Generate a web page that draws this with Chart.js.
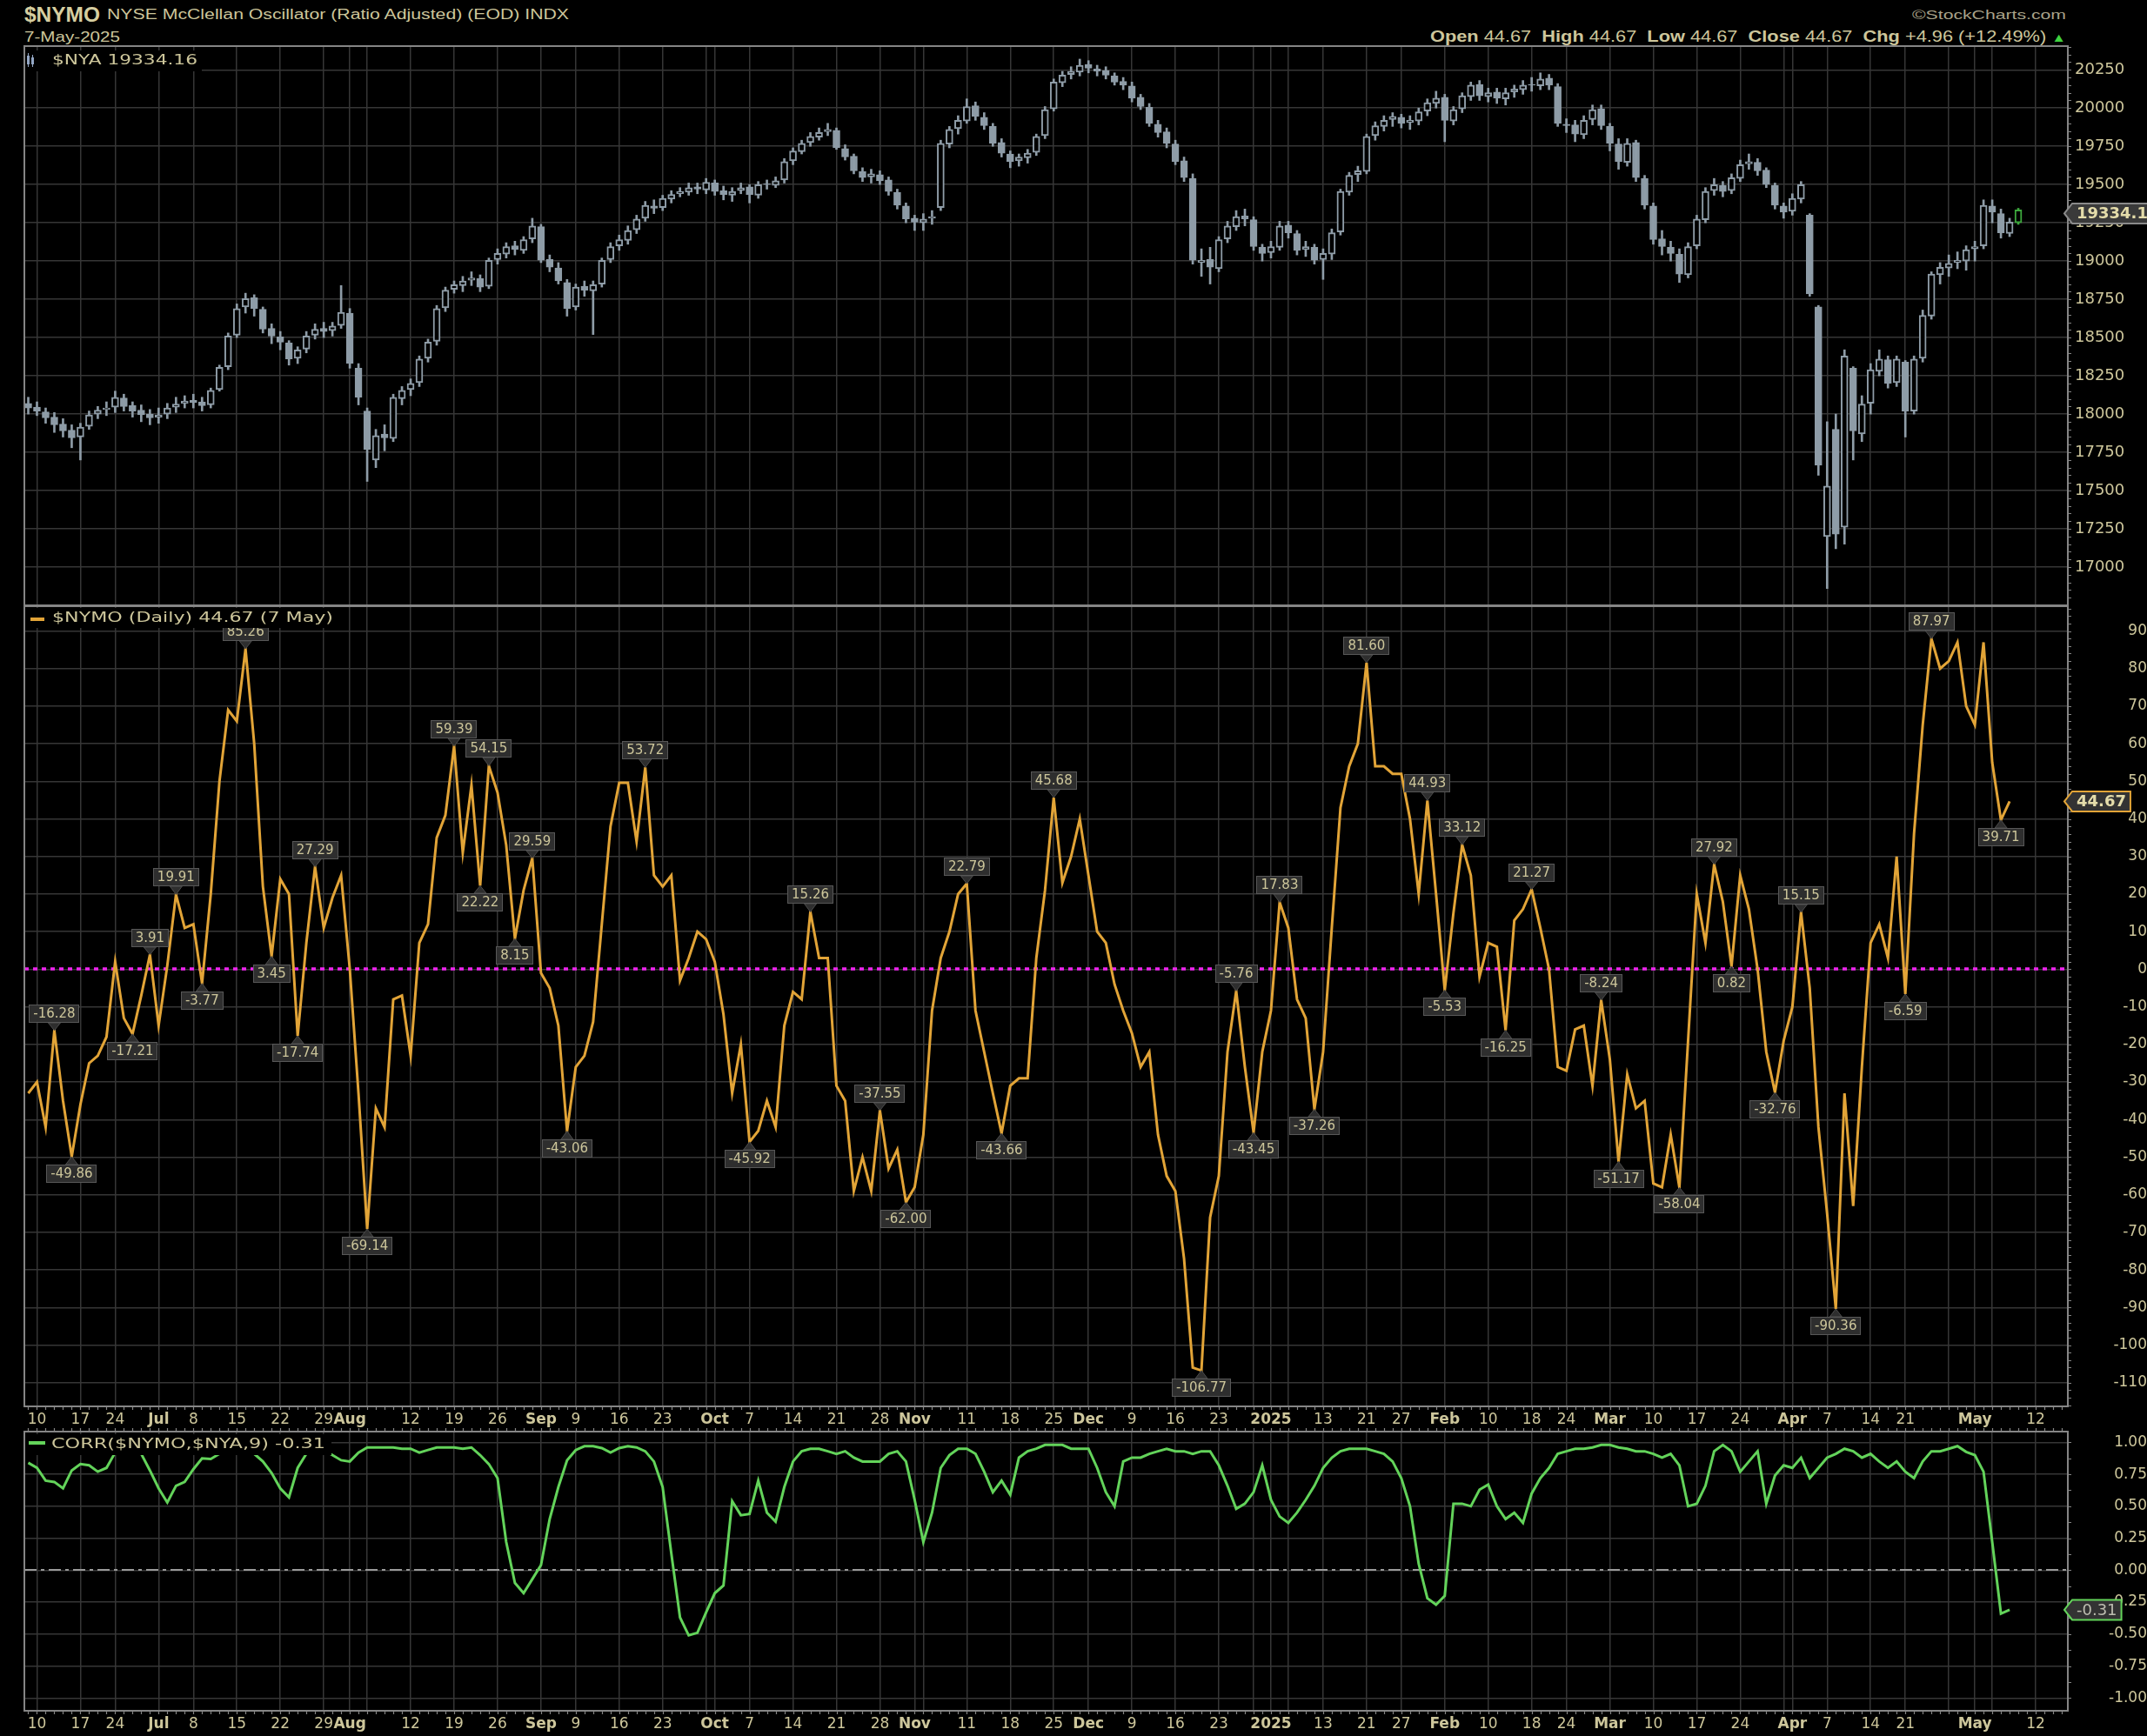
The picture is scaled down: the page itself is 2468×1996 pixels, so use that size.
<!DOCTYPE html>
<html><head><meta charset="utf-8"><title>$NYMO</title>
<script src="https://cdn.jsdelivr.net/npm/chart.js@4.4.1/dist/chart.umd.min.js"></script>
<style>
html,body{margin:0;padding:0;background:#000;}
body{width:2468px;height:1996px;position:relative;overflow:hidden;}
canvas{position:absolute;left:0;display:block;}
.t{position:absolute;left:0;top:0;white-space:nowrap;font-family:"Liberation Sans",Arial,sans-serif;color:#cdc69b;line-height:1.15;transform-origin:0 50%;}
</style></head><body>
<div id="hSym" class="t" style="font-weight:bold;font-size:23px;color:#d6cea0">$NYMO</div>
<div id="hTitle" class="t" style="font-size:16px">NYSE McClellan Oscillator (Ratio Adjusted) (EOD) INDX</div>
<div id="hDate" class="t" style="font-size:17px">7-May-2025</div>
<div id="hSc" class="t" style="font-size:15px;color:#a9a389">©StockCharts.com</div>
<div id="hOhlc" class="t" style="font-size:18px"></div>
<canvas id="cPrice" width="2468" height="670" style="top:40px"></canvas>
<canvas id="cNymo" width="2468" height="960" style="top:690px"></canvas>
<canvas id="cCorr" width="2468" height="356" style="top:1640px"></canvas>
<script>
// ---------------- DATA ----------------
const holidays = ['2024-06-19','2024-07-04','2024-09-02','2024-11-28','2024-12-25','2025-01-01','2025-01-09','2025-01-20','2025-02-17','2025-04-18'];
const labelSkip = ['2024-08-05','2024-09-30','2024-11-04','2024-12-30','2025-01-06','2025-03-31','2025-04-28','2025-05-05'];
const monthNames = ['Jan','Feb','Mar','Apr','May','Jun','Jul','Aug','Sep','Oct','Nov','Dec'];

// $NYA daily candles (open, high, low, close)
const nyaOpen = [18070,18045,18015,17980,17935,17895,17850,17920,18000,18030,
18045,18105,18055,18025,18000,17980,18000,18045,18070,18090,
18080,18060,18160,18310,18515,18700,18760,18685,18560,18505,
18465,18365,18425,18515,18560,18545,18580,18660,18300,18020,
17700,17870,17840,18100,18160,18205,18365,18475,18695,18815,
18840,18875,18885,18835,19010,19045,19100,19070,19145,19225,
19010,18955,18860,18700,18835,18805,18850,19010,19100,19135,
19205,19280,19360,19350,19405,19440,19450,19485,19465,19510,
19460,19430,19460,19485,19430,19505,19495,19530,19655,19715,
19775,19810,19845,19855,19735,19685,19585,19550,19565,19530,
19450,19360,19280,19250,19280,19350,19765,19865,19915,20015,
19940,19880,19775,19700,19655,19675,19710,19820,19995,20165,
20220,20235,20285,20255,20245,20210,20175,20145,20070,20005,
19895,19845,19765,19655,19540,18990,19010,18950,19145,19225,
19295,19270,19090,19055,19090,19235,19180,19075,19090,19010,
19045,19190,19450,19565,19585,19820,19880,19925,19940,19905,
19915,19980,20030,20070,19915,19995,20075,20155,20075,20105,
20060,20105,20120,20155,20145,20195,20140,19895,19890,19825,
19925,19995,19880,19765,19645,19775,19540,19360,19145,19090,
19045,18910,19100,19270,19460,19495,19460,19540,19635,19645,
19595,19495,19360,19325,19405,19300,18700,17200,17900,17260,
18300,17870,18070,18280,18355,18205,18340,18020,18365,18640,
18910,18955,18990,19000,19080,19100,19360,19310,19180,19250];
const nyaHigh = [18110,18080,18040,18010,17970,17930,17940,18020,18050,18080,
18150,18130,18080,18060,18030,18040,18070,18110,18120,18130,
18110,18170,18320,18530,18720,18790,18780,18700,18590,18540,
18480,18440,18540,18590,18600,18600,18840,18690,18330,18040,
17900,17930,18130,18180,18230,18380,18490,18710,18830,18870,
18900,18930,18910,19020,19080,19120,19130,19160,19280,19240,
19040,18990,18880,18850,18870,18870,19020,19120,19170,19230,
19300,19390,19400,19430,19460,19480,19510,19510,19540,19530,
19490,19480,19510,19500,19520,19530,19550,19670,19740,19790,
19840,19870,19900,19870,19760,19700,19610,19600,19590,19550,
19470,19380,19300,19310,19330,19790,19880,19950,20060,20040,
19970,19900,19800,19720,19700,19730,19830,20010,20190,20240,
20270,20320,20310,20280,20270,20230,20200,20170,20090,20030,
19920,19870,19790,19680,19570,19080,19090,19160,19260,19330,
19340,19290,19110,19130,19260,19260,19200,19130,19110,19080,
19210,19470,19580,19620,19830,19910,19950,19970,19960,19950,
20000,20060,20110,20090,20010,20100,20170,20180,20130,20130,
20130,20150,20180,20200,20230,20220,20160,19930,19920,19950,
20020,20020,19900,19800,19800,19790,19560,19380,19200,19130,
19080,19120,19300,19480,19540,19520,19570,19660,19700,19670,
19610,19510,19380,19440,19520,19310,18710,17950,18000,18420,
18310,18120,18330,18420,18380,18380,18350,18380,18680,18930,
18990,19040,19060,19100,19130,19400,19400,19340,19280,19345];
const nyaLow = [18000,17990,17940,17880,17850,17780,17700,17900,17970,17990,
18010,18020,17980,17950,17930,17940,17970,18010,18040,18040,
18020,18040,18150,18290,18500,18660,18640,18530,18460,18420,
18320,18330,18400,18490,18500,18510,18560,18300,18060,17560,
17650,17760,17820,18060,18120,18180,18340,18450,18670,18790,
18800,18840,18800,18820,18980,19020,19040,19050,19120,18990,
18930,18850,18640,18680,18770,18520,18830,18990,19070,19110,
19180,19260,19310,19330,19380,19420,19430,19440,19440,19430,
19400,19390,19440,19380,19410,19470,19480,19510,19630,19700,
19750,19790,19820,19730,19660,19570,19520,19510,19500,19430,
19340,19250,19200,19200,19240,19330,19740,19830,19900,19920,
19860,19750,19680,19610,19620,19640,19690,19800,19980,20140,
20190,20210,20230,20210,20190,20150,20120,20040,19990,19880,
19810,19740,19630,19520,18980,18900,18850,18930,19120,19200,
19230,19070,19000,19020,19070,19150,19040,19030,18980,18880,
19010,19170,19430,19520,19570,19790,19850,19880,19870,19860,
19890,19950,20000,19780,19890,19970,20050,20050,20040,20030,
20020,20070,20090,20110,20120,20120,19880,19840,19780,19800,
19890,19860,19720,19600,19620,19520,19340,19110,19040,19000,
18860,18890,19080,19250,19430,19420,19440,19520,19600,19560,
19480,19340,19280,19300,19380,18770,17600,16860,17120,17150,
17700,17820,18000,18250,18170,18180,17850,18000,18340,18620,
18850,18900,18950,18940,19000,19080,19250,19150,19160,19240];
const nyaClose = [18040,18020,17975,17930,17890,17845,17915,17995,18025,18040,
18110,18050,18020,17995,17975,17995,18040,18065,18085,18075,
18055,18155,18305,18510,18690,18755,18690,18555,18510,18470,
18360,18420,18510,18555,18540,18575,18665,18330,18110,17770,
17860,17845,18110,18155,18200,18360,18470,18690,18810,18845,
18870,18890,18830,19005,19050,19095,19075,19140,19230,19005,
18960,18870,18690,18830,18810,18845,19005,19095,19140,19200,
19275,19365,19345,19410,19435,19455,19480,19470,19515,19455,
19435,19455,19480,19435,19500,19500,19525,19650,19720,19770,
19815,19840,19860,19740,19680,19590,19545,19570,19525,19455,
19365,19275,19255,19275,19290,19770,19860,19920,20010,19945,
19885,19770,19705,19650,19680,19705,19815,19990,20170,20215,
20240,20280,20260,20240,20215,20170,20150,20065,20010,19900,
19840,19770,19650,19545,19005,19005,18960,19140,19230,19290,
19275,19095,19050,19095,19230,19185,19070,19095,19005,19050,
19185,19455,19560,19590,19815,19885,19920,19945,19900,19920,
19975,20035,20065,19920,19990,20080,20150,20080,20100,20065,
20100,20125,20150,20150,20190,20150,19900,19885,19830,19920,
19990,19885,19770,19650,19770,19545,19365,19140,19095,19050,
18915,19095,19275,19455,19500,19455,19545,19630,19650,19590,
19500,19365,19320,19410,19500,18785,17665,17530,17215,18380,
17890,18065,18290,18360,18200,18360,18020,18360,18645,18915,
18960,18985,19005,19075,19095,19365,19320,19185,19255,19334.16];

// $NYMO daily values
const nymo = [-33,-30,-42,-16.28,-35,-49.86,-36,-25,-23,-18,
2,-13,-17.21,-7,3.91,-15,1,19.91,11,12,
-3.77,20,50,69,66,85.26,60,22,3.45,24,
20,-17.74,7,27.29,11,19,25,0,-33,-69.14,
-37,-42,-8,-7,-23,7,12,35,41,59.39,
31,49,22.22,54.15,47,33,8.15,21,29.59,-1,
-5,-15,-43.06,-26,-23,-14,12,38,49.6,49.6,
34,53.72,25,22,25,-3,3,10,8,2,
-12,-33,-20,-45.92,-43,-35,-42,-15,-6,-8,
15.26,3,3,-31,-35,-59,-50,-59,-37.55,-53,
-48,-62,-58,-44,-11,3,10,20,22.79,-11,
-22,-33,-43.66,-31,-29,-29,3,21,45.68,23,
30,40,25,10,7,-4,-11,-17,-26,-22,
-44,-55,-59,-77,-106,-106.77,-66,-55,-22,-5.76,
-26,-43.45,-22,-11,17.83,11,-8,-13,-37.26,-22,
11,43,54,60,81.6,54,54,52,52,40,
20,44.93,20,-5.53,15,33.12,25,-2,7,6,
-16.25,13,16,21.27,11,0,-26,-27,-16,-15,
-31,-8.24,-24,-51.17,-28,-37,-35,-57,-58,-44,
-58.04,-19,20,7,27.92,18,0.82,25,16,0,
-22,-32.76,-19,-10,15.15,-5,-42,-65,-90.36,-33,
-63,-26,7,12,3,30,-6.59,36,65,87.97,
80,82,87,70,65,87,55,39.71,44.67];

// CORR($NYMO,$NYA,9)
const corr = [0.84,0.80,0.70,0.69,0.64,0.78,0.83,0.82,0.77,0.80,
0.92,0.95,0.94,0.91,0.78,0.64,0.53,0.66,0.69,0.79,
0.875,0.87,0.91,0.95,0.96,0.95,0.91,0.85,0.76,0.64,
0.57,0.80,0.91,0.95,0.94,0.90,0.86,0.85,0.92,0.96,
0.96,0.96,0.96,0.95,0.95,0.92,0.94,0.96,0.96,0.96,
0.95,0.96,0.90,0.83,0.72,0.22,-0.10,-0.18,-0.07,0.04,
0.40,0.65,0.86,0.94,0.97,0.97,0.955,0.92,0.955,0.97,
0.96,0.93,0.85,0.65,0.13,-0.37,-0.51,-0.49,-0.33,-0.18,
-0.12,0.54,0.43,0.44,0.70,0.45,0.38,0.65,0.85,0.93,
0.95,0.95,0.93,0.91,0.93,0.88,0.85,0.85,0.85,0.91,
0.93,0.85,0.55,0.22,0.45,0.80,0.90,0.95,0.95,0.91,
0.77,0.61,0.70,0.59,0.88,0.93,0.95,0.98,0.98,0.98,
0.95,0.95,0.95,0.80,0.61,0.50,0.85,0.88,0.88,0.91,
0.93,0.95,0.93,0.93,0.91,0.93,0.93,0.82,0.66,0.48,
0.52,0.61,0.82,0.55,0.42,0.37,0.45,0.55,0.66,0.80,
0.88,0.93,0.95,0.95,0.95,0.93,0.91,0.85,0.72,0.50,
0.05,-0.22,-0.27,-0.20,0.52,0.52,0.50,0.63,0.67,0.50,
0.40,0.45,0.37,0.60,0.72,0.80,0.91,0.93,0.95,0.95,
0.96,0.98,0.98,0.96,0.95,0.93,0.93,0.91,0.88,0.91,
0.82,0.50,0.52,0.66,0.93,0.98,0.93,0.77,0.85,0.93,
0.52,0.74,0.82,0.80,0.88,0.72,0.80,0.88,0.91,0.95,
0.93,0.88,0.91,0.85,0.80,0.85,0.77,0.72,0.85,0.93,
0.93,0.95,0.97,0.925,0.90,0.77,0.22,-0.34,-0.31];

// annotated turning points of $NYMO: [index, 1 = label above / -1 = label below]
const nymoMarks = [[3,1],[5,-1],[12,-1],[14,1],[17,1],[20,-1],[25,1],[28,-1],[31,-1],[33,1],[39,-1],
[49,1],[52,-1],[53,1],[56,-1],[58,1],[62,-1],[71,1],[83,-1],[90,1],[98,1],[101,-1],[108,1],[112,-1],
[118,1],[135,-1],[139,1],[141,-1],[144,1],[148,-1],[154,1],[161,1],[163,-1],[165,1],[170,-1],[173,1],
[181,1],[183,-1],[190,-1],[194,1],[196,-1],[201,-1],[204,1],[208,-1],[216,-1],[219,1],[227,-1]];

// axis ticks
const priceTicks = [17000,17250,17500,17750,18000,18250,18500,18750,19000,19250,19500,19750,20000,20250];
const nymoTicks = [-110,-100,-90,-80,-70,-60,-50,-40,-30,-20,-10,0,10,20,30,40,50,60,70,80,90];
const corrTicks = [-1,-0.75,-0.5,-0.25,0,0.25,0.5,0.75,1];

// ---------------- trading-day categories ----------------
const tradingDays = [];
for (let t = Date.UTC(2024,5,7); t <= Date.UTC(2025,4,15); t += 86400000) {
  const d = new Date(t), wd = d.getUTCDay(), s = d.toISOString().slice(0,10);
  if (wd === 0 || wd === 6 || holidays.includes(s)) continue;
  tradingDays.push(s);
}
const gridIdx = [], labelOf = new Map(), boldIdx = new Set();
for (let i = 1; i < tradingDays.length; i++) {
  const d = new Date(tradingDays[i] + 'T00:00:00Z'), p = new Date(tradingDays[i-1] + 'T00:00:00Z');
  const newMonth = d.getUTCMonth() !== p.getUTCMonth();
  const newWeek = d.getUTCDay() < p.getUTCDay() || (d - p) > 4 * 86400000;
  if (!newMonth && !newWeek) continue;
  gridIdx.push(i);
  if (newMonth) { labelOf.set(i, d.getUTCMonth() === 0 ? String(d.getUTCFullYear()) : monthNames[d.getUTCMonth()]); boldIdx.add(i); }
  else if (!labelSkip.includes(tradingDays[i])) labelOf.set(i, String(d.getUTCDate()));
}

// ---------------- styling ----------------
const KHAKI = '#cdc69b', GRID = '#363636', BORDER = '#858585', CANDLE = '#8e9ca7';
const ORANGE = '#e2a437', GREEN = '#63d35a', MAGENTA = '#ee24ee';
const X_MIN = -0.45, X_MAX = 234.7, AXIS_W = 91;

const last = a => a[a.length - 1];
const lastClose = last(nyaClose), lastNymo = last(nymo), prevNymo = nymo[nymo.length - 2], lastCorr = last(corr);

// header text
const chg = lastNymo - prevNymo;
document.getElementById('hOhlc').innerHTML =
  '<b>Open</b> ' + lastNymo.toFixed(2) + '&nbsp; <b>High</b> ' + lastNymo.toFixed(2) + '&nbsp; <b>Low</b> ' + lastNymo.toFixed(2) +
  '&nbsp; <b>Close</b> ' + lastNymo.toFixed(2) + '&nbsp; <b>Chg</b> ' + (chg >= 0 ? '+' : '') + chg.toFixed(2) +
  ' (' + (chg >= 0 ? '+' : '') + (chg / prevNymo * 100).toFixed(2) + '%) <span style="color:#3fd23f;font-size:14px">&#9650;</span>';
function fitHeader(id, left, right, cy, w) {
  const el = document.getElementById(id);
  const r = el.getBoundingClientRect();
  el.style.transform = 'scaleX(' + (w / r.width) + ')';
  el.style.left = (left != null ? left : right - w) + 'px';
  el.style.top = (cy - r.height / 2) + 'px';
}
fitHeader('hSym', 28, null, 17, 87);
fitHeader('hTitle', 123, null, 17, 531);
fitHeader('hDate', 28, null, 43, 110);
fitHeader('hSc', null, 2375, 17, 177);
fitHeader('hOhlc', null, 2375, 42, 731);

// ---------------- helpers ----------------
function stretchText(ctx, s, x, cy, font, color, targetW) {
  ctx.save(); ctx.font = font;
  const w = ctx.measureText(s).width;
  ctx.translate(x, cy); ctx.scale(targetW ? targetW / w : 1, 1);
  ctx.fillStyle = color; ctx.textBaseline = 'middle'; ctx.textAlign = 'left';
  ctx.fillText(s, 0, 0); ctx.restore();
}
function drawBorder(ctx, a) {
  ctx.save(); ctx.strokeStyle = BORDER; ctx.lineWidth = 2;
  ctx.strokeRect(a.left, a.top, a.right - a.left, a.bottom - a.top); ctx.restore();
}
function yMinorTicks(chart, step, lo, hi) {
  const ctx = chart.ctx, a = chart.chartArea, ys = chart.scales.y;
  ctx.save(); ctx.strokeStyle = BORDER; ctx.lineWidth = 1.2; ctx.beginPath();
  for (let v = lo; v <= hi + 1e-9; v += step) {
    const y = Math.round(ys.getPixelForValue(v)) + 0.5;
    if (y < a.top || y > a.bottom) continue;
    ctx.moveTo(a.right, y); ctx.lineTo(a.right + 4, y);
  }
  ctx.stroke(); ctx.restore();
}
function dayTicks(chart, where) {
  const ctx = chart.ctx, a = chart.chartArea, xs = chart.scales.x;
  ctx.save(); ctx.strokeStyle = BORDER; ctx.lineWidth = 1.2; ctx.beginPath();
  for (let i = 0; i < tradingDays.length; i++) {
    const x = Math.round(xs.getPixelForValue(i)) + 0.5;
    if (x < a.left || x > a.right) continue;
    if (where.includes('bottom')) { ctx.moveTo(x, a.bottom); ctx.lineTo(x, a.bottom + 4); }
    if (where.includes('top')) { ctx.moveTo(x, a.top); ctx.lineTo(x, a.top - 4); }
  }
  ctx.stroke(); ctx.restore();
}
function drawTag(ctx, x0, y, text, font, border, fill, color) {
  ctx.save(); ctx.font = font;
  const w = ctx.measureText(text).width, bx = x0 + 9, h = 23;
  ctx.beginPath();
  ctx.moveTo(x0, y); ctx.lineTo(bx, y - h / 2); ctx.lineTo(bx + w + 10, y - h / 2);
  ctx.lineTo(bx + w + 10, y + h / 2); ctx.lineTo(bx, y + h / 2); ctx.closePath();
  ctx.fillStyle = fill; ctx.fill(); ctx.strokeStyle = border; ctx.lineWidth = 2; ctx.stroke();
  ctx.fillStyle = color; ctx.textBaseline = 'middle'; ctx.textAlign = 'left';
  ctx.fillText(text, bx + 5, y + 1);
  ctx.restore();
}
function drawMark(ctx, x, y, text, above) {
  ctx.save(); ctx.font = '15px "DejaVu Sans"';
  const w = Math.round(ctx.measureText(text).width + 10), h = 21, gap = 9;
  const bx = Math.round(x - w / 2), by = Math.round(above ? y - gap - h : y + gap);
  ctx.fillStyle = '#2e2e2e';
  ctx.beginPath();
  if (above) { ctx.moveTo(x - 7, by + h); ctx.lineTo(x + 7, by + h); ctx.lineTo(x, y); }
  else { ctx.moveTo(x - 7, by); ctx.lineTo(x + 7, by); ctx.lineTo(x, y); }
  ctx.closePath(); ctx.fill();
  ctx.strokeStyle = '#4d4d4d'; ctx.lineWidth = 1; ctx.stroke();
  ctx.fillRect(bx, by, w, h);
  ctx.strokeStyle = '#575757'; ctx.strokeRect(bx + 0.5, by + 0.5, w - 1, h - 1);
  ctx.fillStyle = KHAKI; ctx.textAlign = 'center'; ctx.textBaseline = 'middle';
  ctx.fillText(text, x, by + h / 2 + 1);
  ctx.restore();
}

function xScale(showLabels, h) {
  return {
    type: 'linear', min: X_MIN, max: X_MAX, offset: false,
    afterBuildTicks: s => { s.ticks = gridIdx.map(v => ({ value: v })); },
    afterFit: s => { s.height = h; s.paddingLeft = 0; s.paddingRight = 0; },
    grid: { color: GRID, lineWidth: 1.5, drawTicks: false, offset: false },
    border: { display: false },
    ticks: {
      display: showLabels, autoSkip: false, maxRotation: 0, minRotation: 0, padding: 5, color: KHAKI,
      font: c => ({ family: 'DejaVu Sans', size: 17, weight: (c.tick && boldIdx.has(c.tick.value)) ? 'bold' : 'normal' }),
      callback: v => labelOf.has(v) ? labelOf.get(v) : ''
    }
  };
}
function yScale(min, max, ticks, fmt, size, padding, crossAlign) {
  return {
    position: 'right', min, max,
    afterBuildTicks: s => { s.ticks = ticks.map(v => ({ value: v })); },
    afterFit: s => { s.width = AXIS_W; s.paddingTop = 0; s.paddingBottom = 0; },
    grid: { color: GRID, lineWidth: 1.5, drawTicks: false },
    border: { display: false },
    ticks: { color: KHAKI, padding, crossAlign, font: { family: 'DejaVu Sans', size }, callback: fmt }
  };
}
const base = { responsive: false, animation: false, devicePixelRatio: 1, events: [],
  plugins: { legend: { display: false }, tooltip: { enabled: false } } };

// ---------------- PRICE PANEL ----------------
const lastP = nyaClose.length - 1;
new Chart(document.getElementById('cPrice'), {
  type: 'bar',
  data: { datasets: [
    { data: nyaClose.map((c, i) => ({ x: i, y: [nyaOpen[i], c] })), order: 0, grouped: false,
      barThickness: 8, borderWidth: 2, borderSkipped: false,
      backgroundColor: c => (c.dataIndex === lastP || nyaClose[c.dataIndex] >= nyaOpen[c.dataIndex]) ? '#000' : CANDLE,
      borderColor: c => c.dataIndex === lastP ? '#3da83d' : CANDLE },
    { data: nyaClose.map((c, i) => ({ x: i, y: [nyaLow[i], nyaHigh[i]] })), order: 1, grouped: false,
      barThickness: 2, borderWidth: 0, backgroundColor: c => c.dataIndex === lastP ? '#3da83d' : CANDLE }
  ] },
  options: Object.assign({}, base, {
    layout: { padding: { left: 28, top: 13, right: 0, bottom: 14 } },
    scales: { x: xScale(false, 0), y: yScale(16750, 20405, priceTicks, v => String(v), 18, 8, 'near') }
  }),
  plugins: [{
    id: 'pricePanel',
    afterDatasetsDraw(chart) {
      const ctx = chart.ctx, a = chart.chartArea;
      ctx.fillStyle = '#000'; ctx.fillRect(a.left + 1, a.top + 5, 203, 24);
      // small candle icon
      ctx.fillStyle = '#93a6c4';
      ctx.fillRect(31, a.top + 11, 3, 10); ctx.fillRect(32, a.top + 8, 1, 16);
      ctx.fillRect(36, a.top + 13, 3, 8); ctx.fillRect(37, a.top + 10, 1, 14);
      stretchText(ctx, '$NYA ' + lastClose.toFixed(2), 60, a.top + 17, '15px "DejaVu Sans"', KHAKI, 167);
    },
    afterDraw(chart) {
      const ctx = chart.ctx, a = chart.chartArea;
      drawBorder(ctx, a);
      yMinorTicks(chart, 50, 16750, 20400);
      drawTag(ctx, a.right - 4, chart.scales.y.getPixelForValue(lastClose) + 4, lastClose.toFixed(2),
        'bold 18px "DejaVu Sans"', '#8a8a8a', '#3a3a3a', '#e4dcaa');
    }
  }]
});

// ---------------- NYMO PANEL ----------------
new Chart(document.getElementById('cNymo'), {
  type: 'line',
  data: { datasets: [{ data: nymo.map((v, i) => ({ x: i, y: v })), borderColor: ORANGE, borderWidth: 3,
    pointRadius: 0, tension: 0, fill: false }] },
  options: Object.assign({}, base, {
    layout: { padding: { left: 28, top: 7, right: 0, bottom: 5 } },
    scales: { x: xScale(true, 28), y: yScale(-116.3, 96.6, nymoTicks, v => String(v), 17, 6, 'far') }
  }),
  plugins: [{
    id: 'nymoPanel',
    beforeDatasetsDraw(chart) {
      const ctx = chart.ctx, a = chart.chartArea, y = Math.round(chart.scales.y.getPixelForValue(0));
      ctx.save(); ctx.strokeStyle = MAGENTA; ctx.lineWidth = 3.5; ctx.setLineDash([5, 5]);
      ctx.beginPath(); ctx.moveTo(a.left, y); ctx.lineTo(a.right, y); ctx.stroke(); ctx.restore();
    },
    afterDatasetsDraw(chart) {
      const ctx = chart.ctx, a = chart.chartArea, xs = chart.scales.x, ys = chart.scales.y;
      nymoMarks.forEach(([i, side]) => {
        drawMark(ctx, xs.getPixelForValue(i), ys.getPixelForValue(nymo[i]), nymo[i].toFixed(2), side > 0);
      });
      ctx.fillStyle = '#000'; ctx.fillRect(a.left + 1, a.top + 2, 362, 23);
      ctx.fillStyle = ORANGE; ctx.fillRect(35, a.top + 13, 16, 4);
      stretchText(ctx, '$NYMO (Daily) ' + lastNymo.toFixed(2) + ' (7 May)', 60, a.top + 14, '16px "DejaVu Sans"', KHAKI, 323);
    },
    afterDraw(chart) {
      const ctx = chart.ctx, a = chart.chartArea;
      drawBorder(ctx, a);
      yMinorTicks(chart, 2, -116, 96);
      dayTicks(chart, ['bottom']);
      drawTag(ctx, a.right - 4, chart.scales.y.getPixelForValue(lastNymo), lastNymo.toFixed(2),
        'bold 18px "DejaVu Sans"', ORANGE, '#333', '#e4dcaa');
    }
  }]
});

// ---------------- CORR PANEL ----------------
new Chart(document.getElementById('cCorr'), {
  type: 'line',
  data: { datasets: [{ data: corr.map((v, i) => ({ x: i, y: v })), borderColor: GREEN, borderWidth: 3,
    pointRadius: 0, tension: 0, fill: false }] },
  options: Object.assign({}, base, {
    layout: { padding: { left: 28, top: 6, right: 0, bottom: 0 } },
    scales: { x: xScale(true, 29), y: yScale(-1.10, 1.084, corrTicks, v => v.toFixed(2), 17, 6, 'far') }
  }),
  plugins: [{
    id: 'corrPanel',
    beforeDatasetsDraw(chart) {
      const ctx = chart.ctx, a = chart.chartArea, y = Math.round(chart.scales.y.getPixelForValue(0));
      ctx.save(); ctx.strokeStyle = '#9a9a9a'; ctx.lineWidth = 2; ctx.setLineDash([14, 5, 4, 5]);
      ctx.beginPath(); ctx.moveTo(a.left, y); ctx.lineTo(a.right, y); ctx.stroke(); ctx.restore();
    },
    afterDatasetsDraw(chart) {
      const ctx = chart.ctx, a = chart.chartArea;
      ctx.fillStyle = '#000'; ctx.fillRect(a.left + 1, a.top + 3, 352, 24);
      ctx.fillStyle = GREEN; ctx.fillRect(33, a.top + 11, 19, 4);
      stretchText(ctx, 'CORR($NYMO,$NYA,9) ' + lastCorr.toFixed(2), 59, a.top + 15, '16px "DejaVu Sans"', KHAKI, 315);
    },
    afterDraw(chart) {
      const ctx = chart.ctx, a = chart.chartArea;
      drawBorder(ctx, a);
      yMinorTicks(chart, 0.125, -1.0, 1.0);
      dayTicks(chart, ['top', 'bottom']);
      drawTag(ctx, a.right - 4, chart.scales.y.getPixelForValue(lastCorr), lastCorr.toFixed(2),
        '18px "DejaVu Sans"', GREEN, '#333', '#bdbdb0');
    }
  }]
});
</script>
</body></html>
